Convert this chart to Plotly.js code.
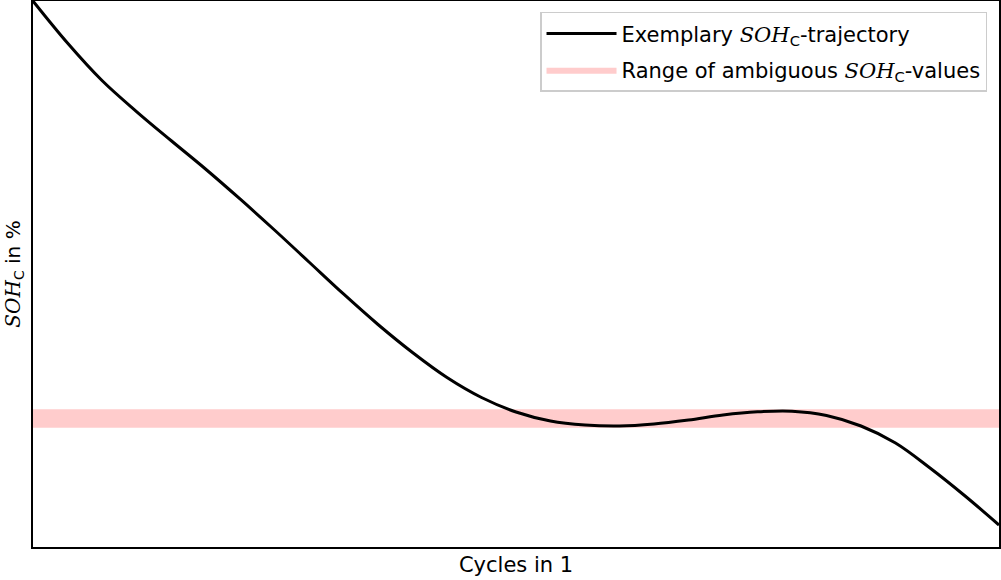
<!DOCTYPE html>
<html>
<head>
<meta charset="utf-8">
<script src="https://cdn.plot.ly/plotly-3.0.1.min.js"></script>
<style>html,body{margin:0;padding:0;background:#fff;}#chart{width:1001px;height:580px;}</style>
</head>
<body>
<div id="chart"></div>
<script>
// Cycles (normalized 0..100) and SOH_C (arbitrary %, no ticks shown)
const cycles = [0, 3.571, 7.143, 10.714, 14.286, 17.857, 21.429, 25, 28.571, 32.143, 35.714, 39.286, 42.857, 46.429, 50, 53.571, 57.143, 60.714, 64.286, 67.857, 71.429, 75, 78.571, 82.143, 85.714, 89.286, 92.857, 96.429, 100];
const soh = [100.0, 92.31, 85.44, 79.76, 74.45, 69.23, 63.74, 58.06, 52.20, 46.34, 40.75, 35.62, 31.04, 27.38, 24.73, 23.08, 22.34, 22.16, 22.53, 23.26, 24.18, 24.76, 24.87, 24.08, 22.16, 19.05, 14.47, 9.43, 4.03];
// Ambiguous band limits
const bandLow = 21.85;
const bandHigh = 25.25;
const xMin = 0, xMax = 100;

const mathSOH = '<span style="font-family:\'DejaVu Serif\', serif;"><i>SOH</i></span><sub>C</sub>';

const traces = [
  {
    x: [xMin, xMax, xMax, xMin, xMin],
    y: [bandLow, bandLow, bandHigh, bandHigh, bandLow],
    type: 'scatter', mode: 'lines', fill: 'toself',
    fillcolor: 'rgba(255,204,204,1)',
    line: {width: 0, color: 'rgba(255,204,204,1)'},
    name: 'Range of ambiguous ' + mathSOH + '-values',
    legendrank: 2, legendgroup: 'b', hoverinfo: 'skip'
  },
  {
    x: cycles, y: soh, type: 'scatter', mode: 'lines',
    line: {color: '#000', width: 3, shape: 'spline', smoothing: 1},
    name: 'Exemplary ' + mathSOH + '-trajectory',
    legendrank: 1, legendgroup: 'a'
  }
];

const layout = {
  width: 1001, height: 580,
  margin: {l: 33, r: 2, t: 1, b: 33, pad: 0},
  paper_bgcolor: '#fff', plot_bgcolor: '#fff',
  font: {family: '"DejaVu Sans", sans-serif', size: 20, color: '#000'},
  showlegend: true,
  legend: {
    x: 0.9876, y: 0.98, xanchor: 'right', yanchor: 'top',
    bgcolor: 'rgba(255,255,255,0.9)', bordercolor: '#cccccc', borderwidth: 1.5,
    font: {size: 21}, tracegroupgap: 6, itemwidth: 70
  },
  xaxis: {
    range: [xMin, xMax], showticklabels: false, ticks: '', showgrid: false, zeroline: false,
    showline: true, mirror: true, linecolor: '#000', linewidth: 1.8,
    title: {text: 'Cycles in 1', standoff: 9, font: {size: 21}}
  },
  yaxis: {
    range: [0, 100], showticklabels: false, ticks: '', showgrid: false, zeroline: false,
    showline: true, mirror: true, linecolor: '#000', linewidth: 1.8,
    title: {text: mathSOH + ' in %', standoff: 5, font: {size: 20}}
  }
};

Plotly.newPlot('chart', traces, layout, {staticPlot: true, displayModeBar: false});
</script>
</body>
</html>
